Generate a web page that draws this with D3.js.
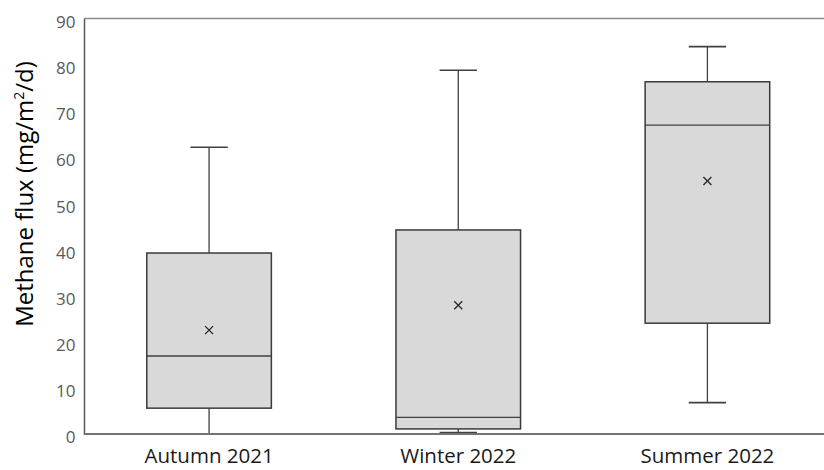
<!DOCTYPE html>
<html>
<head>
<meta charset="utf-8">
<script src="https://cdn.jsdelivr.net/npm/d3@7"></script>
<style>
  body { margin: 0; background: #fff; }
  svg { display: block; font-family: "Open Sans", sans-serif; }
</style>
</head>
<body>
<div id="chart"></div>
<script>
// box plot stats
var seasons = ["Autumn 2021", "Winter 2022", "Summer 2022"]
var mins    = [0.0, 0.3, 6.8]
var q1s     = [5.6, 1.1, 24.0]
var medians = [16.9, 3.6, 66.9]
var q3s     = [39.2, 44.2, 76.3]
var maxs    = [62.1, 78.8, 83.9]
var means   = [22.5, 27.9, 54.8]
var yTicks  = [0, 10, 20, 30, 40, 50, 60, 70, 80, 90]

var width = 824, height = 470
var margin = {top: 18.5, right: -8, bottom: 36, left: 84.5}

var svg = d3.select("#chart").append("svg")
    .attr("width", width)
    .attr("height", height)

var x = d3.scaleBand()
    .domain(seasons)
    .range([margin.left, width - margin.right])
    .paddingInner(0)
    .paddingOuter(0)

var y = d3.scaleLinear()
    .domain([0, 90])
    .range([height - margin.bottom, margin.top])

var rows = seasons.map(function(s, i) {
    return {name: s, min: mins[i], q1: q1s[i], med: medians[i], q3: q3s[i], max: maxs[i], mean: means[i]}
})

// frame: top line and left axis line, no right border
svg.append("line")
    .attr("x1", margin.left).attr("x2", width)
    .attr("y1", y(90)).attr("y2", y(90))
    .attr("stroke", "#8c8c8c").attr("stroke-width", 1.5)

svg.append("line")
    .attr("x1", margin.left).attr("x2", margin.left)
    .attr("y1", y(90)).attr("y2", y(0))
    .attr("stroke", "#595959").attr("stroke-width", 1.5)

// y tick labels
svg.append("g")
    .selectAll("text")
    .data(yTicks)
    .enter().append("text")
    .attr("x", margin.left - 9)
    .attr("y", function(d) { return y(d) + 3.5 })
    .attr("dy", "0.35em")
    .attr("text-anchor", "end")
    .attr("font-size", "17px")
    .attr("fill", "#595959")
    .text(function(d) { return d })

var bw = x.bandwidth()
var boxW = bw * 0.5
var capW = bw * 0.15

var g = svg.append("g")
    .selectAll(".box")
    .data(rows)
    .enter().append("g")
    .attr("class", "box")
    .attr("transform", function(d) { return "translate(" + (x(d.name) + bw / 2) + ",0)" })

// whiskers
g.append("line")
    .attr("x1", 0).attr("x2", 0)
    .attr("y1", function(d) { return y(d.q3) })
    .attr("y2", function(d) { return y(d.max) })
    .attr("stroke", "#404040").attr("stroke-width", 1.3)
g.append("line")
    .attr("x1", 0).attr("x2", 0)
    .attr("y1", function(d) { return y(d.q1) })
    .attr("y2", function(d) { return y(d.min) })
    .attr("stroke", "#404040").attr("stroke-width", 1.3)
g.append("line")
    .attr("x1", -capW / 2).attr("x2", capW / 2)
    .attr("y1", function(d) { return y(d.max) })
    .attr("y2", function(d) { return y(d.max) })
    .attr("stroke", "#404040").attr("stroke-width", 1.6)
g.append("line")
    .attr("x1", -capW / 2).attr("x2", capW / 2)
    .attr("y1", function(d) { return y(d.min) })
    .attr("y2", function(d) { return y(d.min) })
    .attr("stroke", "#404040").attr("stroke-width", 1.6)

// box
g.append("rect")
    .attr("x", -boxW / 2)
    .attr("width", boxW)
    .attr("y", function(d) { return y(d.q3) })
    .attr("height", function(d) { return y(d.q1) - y(d.q3) })
    .attr("fill", "#d9d9d9")
    .attr("stroke", "#3a3a3a")
    .attr("stroke-width", 1.5)

// median
g.append("line")
    .attr("x1", -boxW / 2).attr("x2", boxW / 2)
    .attr("y1", function(d) { return y(d.med) })
    .attr("y2", function(d) { return y(d.med) })
    .attr("stroke", "#404040").attr("stroke-width", 1.3)

// mean marker
g.append("path")
    .attr("d", function(d) {
        var cy = y(d.mean), r = 4
        return "M" + (-r) + "," + (cy - r) + "L" + r + "," + (cy + r) +
               "M" + r + "," + (cy - r) + "L" + (-r) + "," + (cy + r)
    })
    .attr("stroke", "#262626").attr("stroke-width", 1.3)

// x axis line drawn over the lower caps
svg.append("line")
    .attr("x1", margin.left - 0.75).attr("x2", width)
    .attr("y1", y(0)).attr("y2", y(0))
    .attr("stroke", "#737373").attr("stroke-width", 1.8)

// x labels
svg.append("g")
    .selectAll("text")
    .data(seasons)
    .enter().append("text")
    .attr("x", function(d) { return x(d) + bw / 2 })
    .attr("y", y(0) + 29)
    .attr("text-anchor", "middle")
    .attr("font-size", "20.5px")
    .attr("fill", "#1a1a1a")
    .text(function(d) { return d })

// y title
var title = svg.append("text")
    .attr("transform", "translate(33," + 194 + ") rotate(-90)")
    .attr("text-anchor", "middle")
    .attr("font-size", "24px")
    .attr("fill", "#000")
title.append("tspan").text("Methane flux (mg/m")
title.append("tspan").attr("font-size", "14px").attr("dy", "-9").text("2")
title.append("tspan").attr("dy", "9").text("/d)")
</script>
</body>
</html>
